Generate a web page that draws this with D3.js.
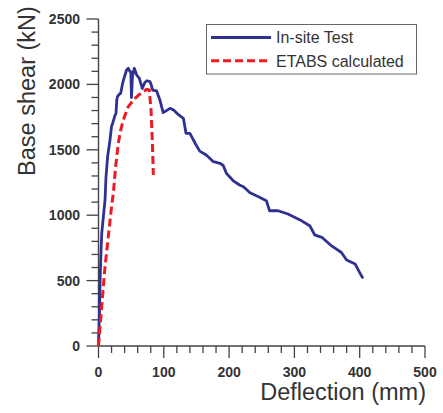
<!DOCTYPE html>
<html>
<head>
<meta charset="utf-8">
<script src="https://cdn.jsdelivr.net/npm/d3@7"></script>
<style>
  body { margin: 0; background: #fff; }
  svg { display: block; font-family: "Liberation Sans", Arial, sans-serif; }
</style>
</head>
<body>
<div id="chart"></div>
<script>
// In-site test curve
const testDeflection = [0, 1.5, 2.5, 4, 5, 7.4, 10, 11.5, 14, 17.6, 20, 21.7, 25, 26.8, 28, 29, 32, 34, 37, 40.6, 43, 45.6, 48, 49.5, 50.5, 52, 54.8, 58.5, 62.5, 67, 71, 74, 78.9, 80.5, 83, 89, 94, 99, 104, 109.5, 115, 122, 130, 134, 140, 148, 155, 165, 176, 186, 191, 196, 206, 216, 222, 232, 245, 257, 262, 275, 290, 308, 324, 331, 342, 357, 372, 380, 393, 399, 404, 406];
const testShear = [0, 250, 505, 750, 862, 988, 1116, 1294, 1450, 1575, 1680, 1703, 1760, 1779, 1880, 1906, 1925, 1932, 2010, 2072, 2110, 2123, 2100, 2097, 1900, 2060, 2123, 2072, 2046, 1970, 2015, 2028, 2021, 2000, 1957, 1950, 1881, 1784, 1800, 1817, 1804, 1770, 1741, 1626, 1626, 1550, 1490, 1460, 1409, 1397, 1380, 1320, 1265, 1231, 1218, 1172, 1141, 1111, 1034, 1034, 1009, 966, 917, 849, 831, 765, 715, 658, 627, 570, 525, 525];

// ETABS calculated curve
const etabsDeflection = [0, 4.9, 10, 15, 20, 22.7, 26, 30.3, 34, 38, 45.6, 56, 66, 73.8, 77.8, 80.4, 82.4, 84];
const etabsShear = [0, 300, 606, 836, 1065, 1167, 1360, 1550, 1650, 1728, 1830, 1894, 1937, 1962, 1957, 1804, 1575, 1307];

const xTicks = [0, 100, 200, 300, 400, 500];
const yTicks = [0, 500, 1000, 1500, 2000, 2500];
const legendLabels = ["In-site Test", "ETABS calculated"];

const W = 443, H = 413;
const blue = "#2e3192", red = "#ed1c24", axisColor = "#444", textColor = "#333";

const svg = d3.select("#chart").append("svg")
    .attr("width", W).attr("height", H);

const x = d3.scaleLinear().domain([0, 500]).range([98.5, 425]);
const y = d3.scaleLinear().domain([0, 2500]).range([346, 19]);

// y axis
const gy = svg.append("g").attr("transform", `translate(${x(0)},0)`);
gy.append("line").attr("y1", y(0)).attr("y2", y(2500))
    .attr("stroke", axisColor).attr("stroke-width", 1.4);
gy.selectAll(".minor").data(d3.range(0, 2501, 100)).enter().append("line")
    .attr("x1", 0).attr("x2", d => d % 500 === 0 ? -12 : -7)
    .attr("y1", d => y(d)).attr("y2", d => y(d))
    .attr("stroke", axisColor).attr("stroke-width", 1.3);
gy.selectAll(".lab").data(yTicks).enter().append("text")
    .attr("x", -18.5).attr("y", d => y(d)).attr("dy", "0.36em")
    .attr("text-anchor", "end").attr("font-size", 14).attr("font-weight", "bold")
    .attr("fill", textColor).text(d => d);

// x axis
const gx = svg.append("g").attr("transform", `translate(0,${y(0)})`);
gx.append("line").attr("x1", x(0)).attr("x2", x(500))
    .attr("stroke", axisColor).attr("stroke-width", 1.4);
gx.selectAll(".minor").data(d3.range(0, 501, 20)).enter().append("line")
    .attr("y1", 0).attr("y2", d => d % 100 === 0 ? 12 : 7)
    .attr("x1", d => x(d)).attr("x2", d => x(d))
    .attr("stroke", axisColor).attr("stroke-width", 1.3);
gx.selectAll(".lab").data(xTicks).enter().append("text")
    .attr("x", d => x(d)).attr("y", 30.5)
    .attr("text-anchor", "middle").attr("font-size", 14).attr("font-weight", "bold")
    .attr("fill", textColor).text(d => d);

// axis titles
svg.append("text")
    .attr("transform", `translate(35,91) rotate(-90)`)
    .attr("text-anchor", "middle").attr("font-size", 23.5)
    .attr("fill", textColor).text("Base shear (kN)");
svg.append("text")
    .attr("x", 426).attr("y", 400)
    .attr("text-anchor", "end").attr("font-size", 23.5)
    .attr("fill", textColor).text("Deflection (mm)");

// curves
const line = d3.line().x(d => x(d[0])).y(d => y(d[1]));
const testPts = d3.zip(testDeflection, testShear);
const etabsPts = d3.zip(etabsDeflection, etabsShear);

svg.append("path").datum(testPts).attr("d", line)
    .attr("fill", "none").attr("stroke", blue).attr("stroke-width", 2.8)
    .attr("stroke-linejoin", "round");
svg.append("path").datum(etabsPts).attr("d", line)
    .attr("fill", "none").attr("stroke", red).attr("stroke-width", 3)
    .attr("stroke-dasharray", "8,4");

// legend
const lg = svg.append("g");
lg.append("rect").attr("x", 206.5).attr("y", 24.5).attr("width", 210).attr("height", 49.5)
    .attr("fill", "#fff").attr("stroke", "#666").attr("stroke-width", 1);
const items = [{c: blue, dash: null}, {c: red, dash: "8,4"}];
items.forEach((it, i) => {
    const yy = 37.5 + i * 23.3;
    lg.append("line").attr("x1", 211).attr("x2", 271).attr("y1", yy).attr("y2", yy)
        .attr("stroke", it.c).attr("stroke-width", 3)
        .attr("stroke-dasharray", it.dash);
    lg.append("text").attr("x", 276).attr("y", yy).attr("dy", "0.36em")
        .attr("font-size", 16).attr("fill", textColor).text(legendLabels[i]);
});
</script>
</body>
</html>
